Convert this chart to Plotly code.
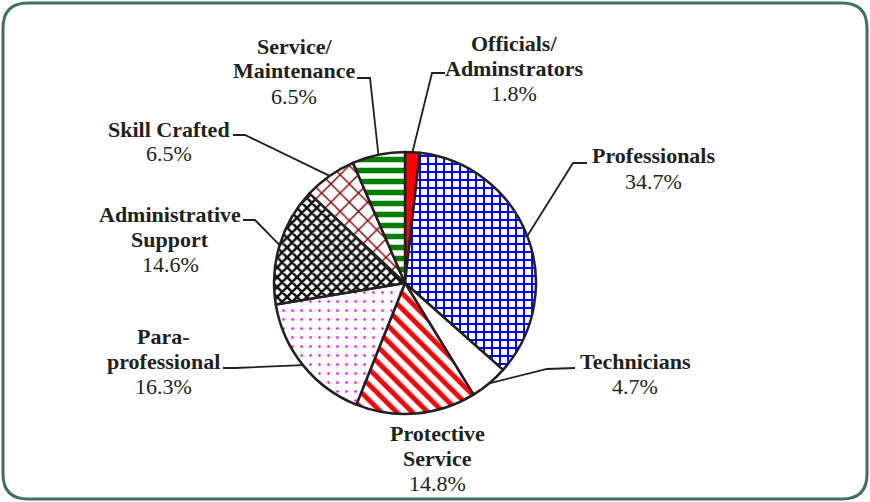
import math
import plotly.graph_objects as go

# ---------------- data ----------------
categories = ["Officials/Adminstrators", "Professionals", "Technicians",
              "Protective Service", "Para-professional", "Administrative Support",
              "Skill Crafted", "Service/Maintenance"]
values = [1.8, 34.7, 4.7, 14.8, 16.3, 14.6, 6.5, 6.5]
label_lines = [["Officials/", "Adminstrators"], ["Professionals"], ["Technicians"],
               ["Protective", "Service"], ["Para-", "professional"],
               ["Administrative", "Support"], ["Skill Crafted"], ["Service/", "Maintenance"]]

# ---------------- styles ----------------
W, H = 870, 502
INK = "#231f20"
FONT = "Liberation Serif"
FS = 22
cx, cy, R = 405, 283, 131

base_colors = ["#ff0000", "white", "white", "white", "white", "white", "white", "white"]
pat_shape = ["", "+", "", "\\", ".", "x", "x", "-"]
pat_fg = ["#ff0000", "#0000ff", "white", "#ff0000", "#ff00ff", "#111111", "#8b0000", "#008000"]
pat_size = [8, 8, 8, 11, 9, 7, 13, 11]
pat_sol = [0.3, 0.42, 0.3, 0.45, 0.06, 0.6, 0.2, 0.5]

def px(x):
    return x / W

def py(y):
    return 1 - y / H

fig = go.Figure()
fig.add_trace(go.Pie(
    labels=categories, values=values, sort=False, direction="clockwise", rotation=0,
    textinfo="none", hoverinfo="label+percent", showlegend=False,
    domain=dict(x=[px(cx - R), px(cx + R)], y=[py(cy + R), py(cy - R)]),
    marker=dict(colors=base_colors, line=dict(color=INK, width=2.5),
                pattern=dict(shape=pat_shape, fgcolor=pat_fg, bgcolor="white", fgopacity=1,
                             size=pat_size, solidity=pat_sol, fillmode="overlay")),
))

# label layout: (center x, first-line middle y)
label_pos = [
    (514, 43),
    (653, 156),
    (635, 361),
    (437, 433),
    (163, 336),
    (170, 214),
    (169, 129),
    (294, 46),
]
LH = 25

annotations = []
for lines, v, (x, y0) in zip(label_lines, values, label_pos):
    for i, t in enumerate(lines):
        annotations.append(dict(x=px(x), y=py(y0 + i * LH), xref="paper", yref="paper",
                                text=f"<b>{t}</b>", showarrow=False, xanchor="center", yanchor="middle",
                                font=dict(family=FONT, size=FS, color=INK)))
    annotations.append(dict(x=px(x), y=py(y0 + len(lines) * LH), xref="paper", yref="paper",
                            text=f"{v:.1f}%", showarrow=False, xanchor="center", yanchor="middle",
                            font=dict(family=FONT, size=FS, color=INK)))

# leader lines: (start x, start y, elbow x, elbow y) or None
leaders = [(445, 73, 432, 73), (587, 163, 573, 163), (575, 368, 547, 369), None,
           (223, 368, 235, 368), (243, 220, 255, 220), (233, 135, 245, 135), (357, 78, 370, 78)]

shapes = []
total = sum(values)
cum = 0.0
for v, ld in zip(values, leaders):
    mid = (cum + v / 2) / total * 2 * math.pi
    cum += v
    if ld is None:
        continue
    ex = cx + R * math.sin(mid)
    ey = cy - R * math.cos(mid)
    sx, sy, bx, by = ld
    path = f"M {px(sx)},{py(sy)} L {px(bx)},{py(by)} L {px(ex)},{py(ey)}"
    shapes.append(dict(type="path", xref="paper", yref="paper", path=path,
                       line=dict(color=INK, width=1.8)))

# rounded frame
x0, y0, x1, y1, r = 3, 3, 867, 499, 25
def P(x, y):
    return f"{px(x)},{py(y)}"
frame = (f"M {P(x0 + r, y0)} L {P(x1 - r, y0)} Q {P(x1, y0)} {P(x1, y0 + r)} "
         f"L {P(x1, y1 - r)} Q {P(x1, y1)} {P(x1 - r, y1)} L {P(x0 + r, y1)} "
         f"Q {P(x0, y1)} {P(x0, y1 - r)} L {P(x0, y0 + r)} Q {P(x0, y0)} {P(x0 + r, y0)} Z")
shapes.append(dict(type="path", xref="paper", yref="paper", path=frame,
                   line=dict(color="#41705f", width=3)))

fig.update_layout(
    width=W, height=H, margin=dict(l=0, r=0, t=0, b=0),
    paper_bgcolor="white", plot_bgcolor="white",
    annotations=annotations, shapes=shapes,
    font=dict(family=FONT, color=INK),
)
fig.write_html("out.html", config={"displayModeBar": False},
               post_script="document.body.style.margin='0px';document.body.style.overflow='hidden';")
